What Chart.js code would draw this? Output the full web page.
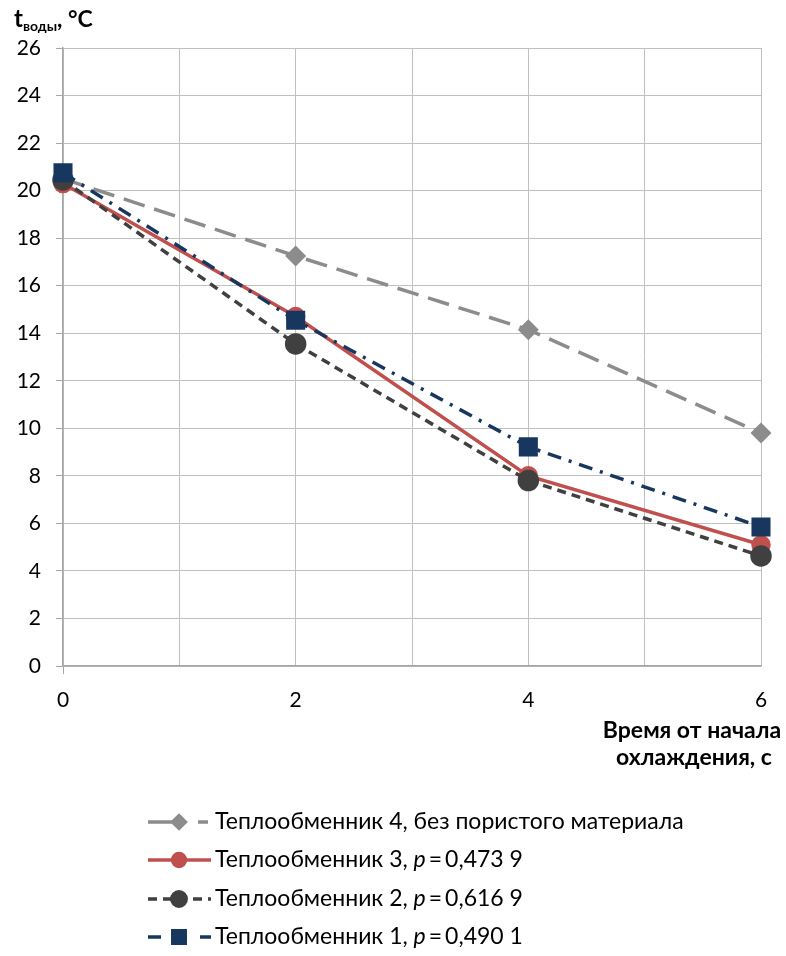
<!DOCTYPE html>
<html>
<head>
<meta charset="utf-8">
<script src="https://cdn.jsdelivr.net/npm/chart.js@4"></script>
<style>
  html, body { margin: 0; padding: 0; background: #fff; }
  #wrap { width: 786px; height: 956px; position: relative; }
</style>
</head>
<body>
<div id="wrap"><canvas id="chart" width="786" height="956"></canvas></div>
<script>
// Время от начала охлаждения, с
const times = [0, 2, 4, 6];
// Температура воды по теплообменникам
const hx4 = [20.5, 17.25, 14.15, 9.8];
const hx3 = [20.3, 14.7, 8.0, 5.1];
const hx2 = [20.45, 13.55, 7.8, 4.63];
const hx1 = [20.75, 14.55, 9.22, 5.85];
// Подписи осей
const yMin = 0, yMax = 26, yStep = 2;
const xMin = 0, xMax = 6, xLabelStep = 2;
const legendLabels = [
    { text: 'Теплообменник 4, без пористого материала' },
    { text: 'Теплообменник 3, ', p: '0,473 9' },
    { text: 'Теплообменник 2, ', p: '0,616 9' },
    { text: 'Теплообменник 1, ', p: '0,490 1' }
];

const FONT = 'Lato, "Open Sans", sans-serif';

function points(values) {
    return times.map((t, i) => ({ x: t, y: values[i] }));
}

// Заголовки осей и легенда рисуются вручную
const decorPlugin = {
    id: 'decor',
    afterDraw(chart) {
        const ctx = chart.ctx;
        ctx.save();
        ctx.fillStyle = '#000';
        ctx.textBaseline = 'alphabetic';
        ctx.textAlign = 'left';

        // Заголовок оси Y
        ctx.font = 'bold 24px ' + FONT;
        ctx.fillText('t', 14, 27);
        let x = 14 + ctx.measureText('t').width;
        ctx.font = 'bold 14px ' + FONT;
        ctx.fillText('воды', x, 31);
        x += ctx.measureText('воды').width;
        ctx.font = 'bold 23px ' + FONT;
        ctx.fillText(', °C', x, 27);

        // Заголовок оси X
        ctx.font = 'bold 23px ' + FONT;
        ctx.textAlign = 'center';
        ctx.fillText('Время от начала', 692, 738);
        ctx.fillText('охлаждения, с', 694, 765);

        // Легенда
        const rows = [822, 860, 899, 937];
        chart.data.datasets.forEach((ds, i) => {
            const y = rows[i];
            ctx.save();
            ctx.strokeStyle = ds.borderColor;
            ctx.lineWidth = ds.borderWidth;
            ctx.setLineDash(ds.legendDash || ds.borderDash || []);
            ctx.beginPath();
            ctx.moveTo(148, y);
            ctx.lineTo(211, y);
            ctx.stroke();
            ctx.setLineDash([]);
            Chart.helpers.drawPoint(ctx, {
                pointStyle: ds.pointStyle,
                radius: ds.pointRadius * 0.8,
                rotation: 0,
                borderWidth: 1
            }, 179, y);
            ctx.fillStyle = ds.pointBackgroundColor;
            ctx.strokeStyle = ds.pointBackgroundColor;
            ctx.fill();
            ctx.restore();

            const lbl = legendLabels[i];
            ctx.textAlign = 'left';
            ctx.textBaseline = 'middle';
            ctx.fillStyle = '#000';
            ctx.font = '23px ' + FONT;
            let tx = 215;
            ctx.fillText(lbl.text, tx, y);
            if (lbl.p) {
                tx += ctx.measureText(lbl.text).width;
                ctx.font = 'italic 23px ' + FONT;
                ctx.fillText('p', tx, y);
                tx += ctx.measureText('p').width + 3;
                ctx.font = '23px ' + FONT;
                ctx.fillText('=', tx, y);
                tx += ctx.measureText('=').width + 3;
                ctx.fillText(lbl.p, tx, y);
            }
        });
        ctx.restore();
    }
};

new Chart(document.getElementById('chart'), {
    type: 'line',
    data: {
        datasets: [
            {
                label: legendLabels[0].text,
                data: points(hx4),
                borderColor: '#8c8c8c',
                borderWidth: 3.5,
                borderDash: [22, 10],
                legendDash: [26, 24, 10, 30],
                pointStyle: 'rectRot',
                pointRadius: 8,
                pointBackgroundColor: '#8c8c8c',
                pointBorderColor: '#8c8c8c',
                order: 4
            },
            {
                label: legendLabels[1].text,
                data: points(hx3),
                borderColor: '#c0504d',
                borderWidth: 3.5,
                pointStyle: 'circle',
                pointRadius: 8,
                pointBackgroundColor: '#c0504d',
                pointBorderColor: '#c0504d',
                order: 3
            },
            {
                label: legendLabels[2].text,
                data: points(hx2),
                borderColor: '#404040',
                borderWidth: 3.5,
                borderDash: [9, 6],
                pointStyle: 'circle',
                pointRadius: 9,
                pointBackgroundColor: '#404040',
                pointBorderColor: '#404040',
                order: 2
            },
            {
                label: legendLabels[3].text,
                data: points(hx1),
                borderColor: '#17375e',
                borderWidth: 3.5,
                borderDash: [14, 8, 3, 8],
                legendDash: [13, 13],
                pointStyle: 'rect',
                pointRadius: 11,
                pointBackgroundColor: '#17375e',
                pointBorderColor: '#17375e',
                order: 1
            }
        ]
    },
    options: {
        responsive: false,
        animation: false,
        clip: false,
        layout: { padding: { top: 48, right: 25, bottom: 242, left: 0 } },
        plugins: { legend: { display: false }, tooltip: { enabled: false } },
        elements: { line: { tension: 0 }, point: { borderWidth: 1 } },
        scales: {
            x: {
                type: 'linear',
                min: xMin,
                max: xMax,
                afterFit(scale) { scale.height = 48; },
                ticks: {
                    stepSize: 1,
                    padding: 14,
                    color: '#000',
                    font: { family: FONT, size: 21 },
                    callback: v => (v % xLabelStep === 0 ? String(v) : '')
                },
                grid: {
                    color: '#c0c0c0',
                    lineWidth: 1,
                    tickLength: 8,
                    tickColor: c => (c.tick && c.tick.value === 0 ? '#a6a6a6' : 'rgba(0,0,0,0)')
                },
                border: { color: '#a6a6a6', width: 1.5 }
            },
            y: {
                min: yMin,
                max: yMax,
                afterFit(scale) { scale.width = 63; },
                ticks: {
                    stepSize: yStep,
                    padding: 15,
                    color: '#000',
                    font: { family: FONT, size: 21 }
                },
                grid: {
                    color: '#c0c0c0',
                    lineWidth: 1,
                    tickLength: 7,
                    tickColor: '#a6a6a6'
                },
                border: { color: '#a6a6a6', width: 1.5 }
            }
        }
    },
    plugins: [decorPlugin]
});
</script>
</body>
</html>
